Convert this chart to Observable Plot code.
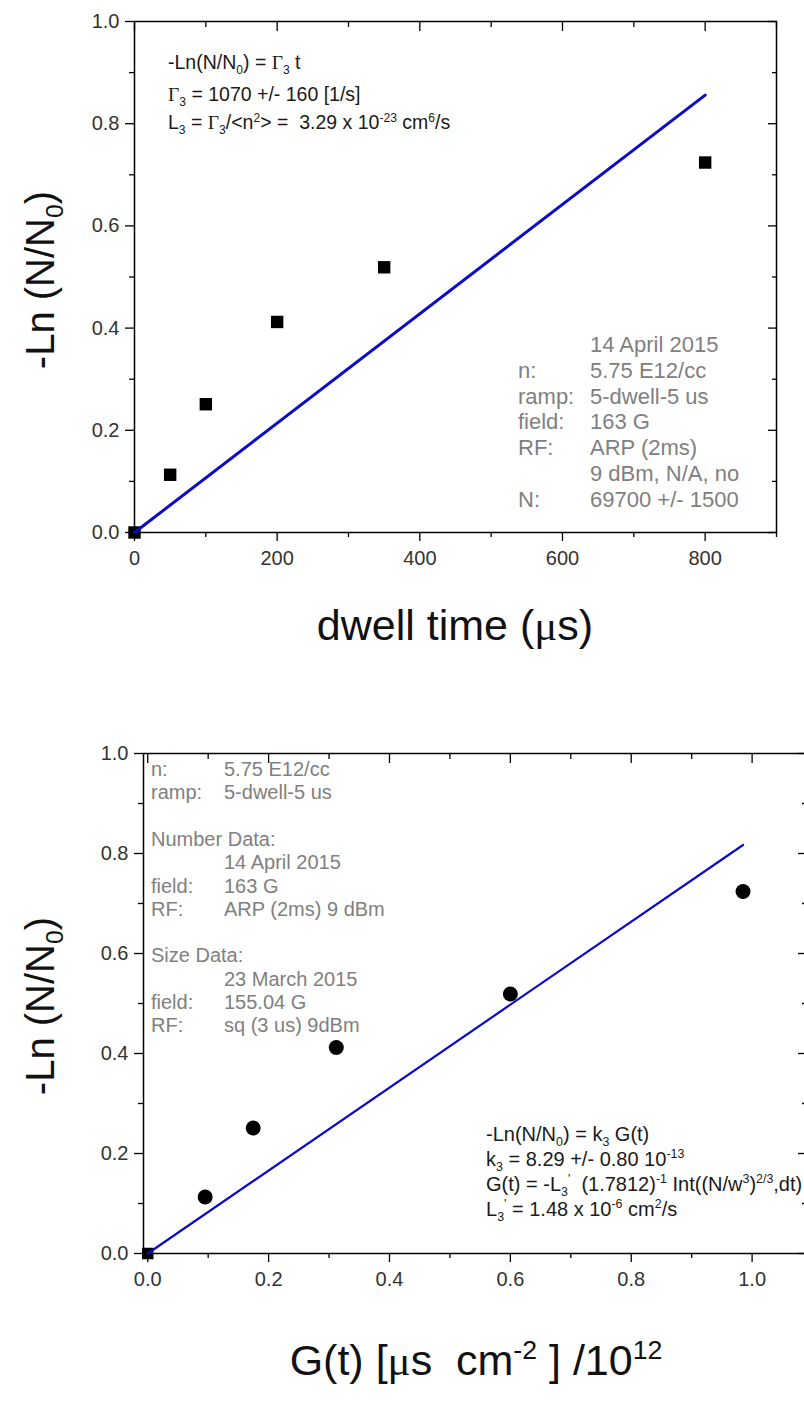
<!DOCTYPE html>
<html><head><meta charset="utf-8">
<script src="https://cdn.jsdelivr.net/npm/d3@7"></script>
<script src="https://cdn.jsdelivr.net/npm/@observablehq/plot@0.6"></script>
<style>
html,body{margin:0;padding:0;background:#fff;overflow:hidden;}
#page{position:relative;width:804px;height:1405px;overflow:hidden;font-family:"Liberation Sans",Arial,sans-serif;background:#fff;}
.chart{position:absolute;left:0;max-width:none !important;}
.t{position:absolute;white-space:pre;line-height:1;}
.g{color:#808080;}
.f{color:#1a1a1a;}
.title{position:absolute;white-space:pre;line-height:1;color:#111;}
sub,sup{font-size:0.62em;line-height:0;}
.sym{font-family:"Liberation Serif","Times New Roman",serif;}
</style></head><body><div id="page"></div>
<script>
// ---- data ----
const dwellTime = [0, 50, 100, 200, 350, 800];           // µs
const lnRatio   = [0, 0.113, 0.251, 0.412, 0.519, 0.724]; // -Ln(N/N0)
const fitTime   = [0, 800];
const fitLnTop  = [0, 0.856];
const gValues   = [0, 0.095, 0.1745, 0.312, 0.600, 0.985]; // G(t)/1e12
const fitG      = [0, 0.985];
const fitLnBot  = [0, 0.817];
const yTicks = [0, 0.2, 0.4, 0.6, 0.8, 1.0];
const yMinor = [0.1, 0.3, 0.5, 0.7, 0.9];
const xTicksTop = [0, 200, 400, 600, 800];
const xMinorTop = [100, 300, 500, 700, 900];
const xTicksBot = [0, 0.2, 0.4, 0.6, 0.8, 1.0];
const xMinorBot = [0.1, 0.3, 0.5, 0.7, 0.9];
const topInfoLabels = ["", "n:", "ramp:", "field:", "RF:", "", "N:"];
const topInfoValues = ["14 April 2015", "5.75 E12/cc", "5-dwell-5 us", "163 G", "ARP (2ms)", "9 dBm, N/A, no", "69700 +/- 1500"];
const botInfoLabels = ["n:", "ramp:", "", "Number Data:", "", "field:", "RF:", "", "Size Data:", "", "field:", "RF:"];
const botInfoValues = ["5.75 E12/cc", "5-dwell-5 us", "", "", "14 April 2015", "163 G", "ARP (2ms) 9 dBm", "", "", "23 March 2015", "155.04 G", "sq (3 us) 9dBm"];

const page = document.getElementById("page");

function axes(xT, xM, yT, yM, xFmt) {
  const ax = {stroke: "#000", strokeWidth: 1.3, label: null};
  return [
    Plot.axisX({...ax, ticks: xM, anchor: "bottom", tickSize: 5, fill: "none"}),
    Plot.axisX({...ax, ticks: xT, anchor: "bottom", tickSize: 9, tickPadding: 9, tickFormat: xFmt, fill: "#333"}),
    Plot.axisX({...ax, ticks: xM, anchor: "top", tickSize: 5, dy: 5, fill: "none"}),
    Plot.axisX({...ax, ticks: xT, anchor: "top", tickSize: 9, dy: 9, fill: "none"}),
    Plot.axisY({...ax, ticks: yM, anchor: "left", tickSize: 5, fill: "none"}),
    Plot.axisY({...ax, ticks: yT, anchor: "left", tickSize: 9, tickPadding: 6, tickFormat: d3.format(".1f"), fill: "#333"}),
    Plot.axisY({...ax, ticks: yM, anchor: "right", tickSize: 5, dx: -5, fill: "none"}),
    Plot.axisY({...ax, ticks: yT, anchor: "right", tickSize: 9, dx: -9, fill: "none"}),
    Plot.frame({stroke: "#000", strokeWidth: 1.5})
  ];
}
const style = {fontFamily: "Liberation Sans, Arial, sans-serif", fontSize: "20px", color: "#333", background: "transparent", overflow: "visible", maxWidth: "none"};

// ---- top chart ----
const topPts = dwellTime.map((t, i) => ({t, v: lnRatio[i]}));
const topFit = fitTime.map((t, i) => ({t, v: fitLnTop[i]}));
const p1 = Plot.plot({
  width: 804, height: 660,
  marginLeft: 134, marginRight: 28, marginTop: 21, marginBottom: 128,
  style,
  x: {domain: [0, 900], axis: null},
  y: {domain: [0, 1], axis: null},
  marks: [
    ...axes(xTicksTop, xMinorTop, yTicks, yMinor, d => d3.format("d")(d)),
    Plot.dot(topPts, {x: "t", y: "v", symbol: "square", r: 7, fill: "#000", stroke: "none"}),
    Plot.line(topFit, {x: "t", y: "v", stroke: "#0a0ac8", strokeWidth: 3})
  ]
});
p1.classList.add("chart"); p1.style.top = "0px";
page.appendChild(p1);

// ---- bottom chart ----
const botPts = gValues.map((g, i) => ({g, v: lnRatio[i]}));
const botFit = fitG.map((g, i) => ({g, v: fitLnBot[i]}));
const p2 = Plot.plot({
  width: 812, height: 705,
  marginLeft: 143, marginRight: 6, marginTop: 53, marginBottom: 152,
  style,
  x: {domain: [-0.007, 1.09], axis: null},
  y: {domain: [0, 1], axis: null},
  marks: [
    ...axes(xTicksBot, xMinorBot, yTicks, yMinor, d3.format(".1f")),
    Plot.dot(botPts.filter((d, i) => i > 0), {x: "g", y: "v", r: 7.5, fill: "#000", stroke: "none"}),
    Plot.dot(botPts.filter((d, i) => i === 0), {x: "g", y: "v", symbol: "square", r: 6.5, fill: "#000", stroke: "none"}),
    Plot.line(botFit, {x: "g", y: "v", stroke: "#0a0ac8", strokeWidth: 2.2})
  ]
});
p2.classList.add("chart"); p2.style.top = "700px";
page.appendChild(p2);

// ---- text overlays ----
function addText(html, cls, left, cy, size) {
  const d = document.createElement("div");
  d.className = "t " + cls;
  d.style.left = left + "px";
  d.style.top = (cy - size / 2) + "px";
  d.style.fontSize = size + "px";
  d.innerHTML = html;
  page.appendChild(d);
}
function addTitle(html, cx, cy, size, rotate) {
  const d = document.createElement("div");
  d.className = "title";
  d.style.left = cx + "px";
  d.style.top = cy + "px";
  d.style.fontSize = size + "px";
  d.style.transform = "translate(-50%,-50%)" + (rotate ? " rotate(-90deg)" : "");
  d.innerHTML = html;
  page.appendChild(d);
}
// top formulas
addText('-Ln(N/N<sub>0</sub>) = <span class="sym">Γ</span><sub>3</sub> t', "f", 168, 63, 19.5);
addText('<span class="sym">Γ</span><sub>3</sub> = 1070 +/- 160 [1/s]', "f", 168, 95, 19.5);
addText('L<sub>3</sub> = <span class="sym">Γ</span><sub>3</sub>/&lt;n<sup>2</sup>&gt; =  3.29 x 10<sup>-23</sup> cm<sup>6</sup>/s', "f", 168, 123, 19.5);
// top info block
topInfoLabels.forEach((l, i) => {
  const cy = 345 + i * 25.8;
  if (l) addText(l, "g", 518, cy, 22);
  if (topInfoValues[i]) addText(topInfoValues[i], "g", 590, cy, 22);
});
// bottom info block
botInfoLabels.forEach((l, i) => {
  const cy = 769 + i * 23.3;
  if (l) addText(l, "g", 151, cy, 20);
  if (botInfoValues[i]) addText(botInfoValues[i], "g", 224, cy, 20);
});
// bottom formulas
addText('-Ln(N/N<sub>0</sub>) = k<sub>3</sub> G(t)', "f", 486, 1134, 20);
addText('k<sub>3</sub> = 8.29 +/- 0.80 10<sup>-13</sup>', "f", 486, 1159, 20);
addText('G(t) = -L<sub>3</sub><sup>\'</sup>  (1.7812)<sup>-1</sup> Int((N/w<sup>3</sup>)<sup>2/3</sup>,dt)', "f", 486, 1184, 20);
addText('L<sub>3</sub><sup>\'</sup> = 1.48 x 10<sup>-6</sup> cm<sup>2</sup>/s', "f", 486, 1209, 20);
// axis titles
addTitle('dwell time (<span class="sym">μ</span>s)', 455, 625, 43, false);
addTitle('-Ln (N/N<sub>0</sub>)', 40, 280, 40, true);
addTitle('G(t) [<span class="sym">μ</span>s  cm<sup>-2</sup> ] /10<sup>12</sup>', 476, 1360, 43, false);
addTitle('-Ln (N/N<sub>0</sub>)', 40, 1006, 40, true);
</script></body></html>
